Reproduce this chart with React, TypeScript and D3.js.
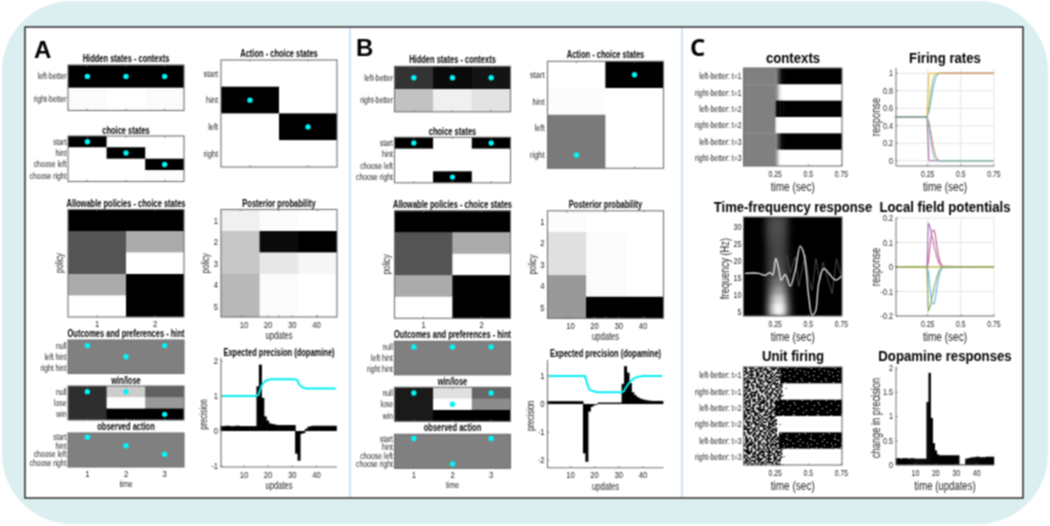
import React from 'react';
import * as d3 from 'd3';

const FONT = '"Liberation Sans", Arial, sans-serif';

// ---------- data: grey levels (0 black, 1 white), rows top to bottom ----------
const contextLabels = ['left-better', 'right-better'];
const choiceLabels = ['start', 'hint', 'choose left', 'choose right'];
const actionLabels = ['start', 'hint', 'left', 'right'];
const hintLabels = ['null', 'left hint', 'right hint'];
const winLabels = ['null', 'lose', 'win'];
const policyLabels = ['1', '2', '3', '4', '5'];
const timeLabels = ['1', '2', '3'];
const policyCols = ['1', '2'];

const hiddenA = [[0, 0, 0], [0.985, 1, 0.985]];
const hiddenB = [[0.2, 0.04, 0.08], [0.76, 0.94, 0.89]];
const choiceA = [[0, 1, 1], [1, 0, 1], [1, 1, 0], [1, 1, 0.99]];
const choiceB = [[0, 1, 0], [1, 1, 1], [1, 1, 1], [1, 0, 1]];
const actionA = [[1, 1], [0, 1], [1, 0], [1, 1]];
const actionB = [[1, 0], [0.99, 1], [0.48, 1], [0.48, 1]];
const policies = [[0, 0], [0.33, 0.67], [0.33, 1], [0.67, 0], [1, 0]];
const posteriorA = [[0.94, 0.99, 1], [0.78, 0.04, 0], [0.78, 0.91, 0.97], [0.72, 0.99, 1], [0.72, 0.99, 1]];
const posteriorB = [[0.99, 1, 1], [0.88, 0.985, 1], [0.88, 0.985, 1], [0.6, 0.985, 1], [0.6, 0, 0]];
const hintGrey = [[0.5, 0.5, 0.5], [0.5, 0.5, 0.5], [0.5, 0.5, 0.5]];
const winA = [[0.18, 0.8, 0.38], [0.18, 1, 0.6], [0.18, 0, 0]];
const winB = [[0.1, 0.88, 0.4], [0.1, 1, 0.55], [0.1, 0, 0]];
const observedGrey = [[0.5, 0.5, 0.5], [0.5, 0.5, 0.5], [0.5, 0.5, 0.5], [0.5, 0.5, 0.5]];

// marker positions: row index per column
const hiddenDots = [0, 0, 0];
const choiceDotsA = [0, 1, 2];
const choiceDotsB = [0, 3, 0];
const actionDotsA = [1, 2];
const actionDotsB = [3, 0];
const hintDotsA = [0, 1, 0];
const hintDotsB = [0, 0, 0];
const winDotsA = [0, 0, 2];
const winDotsB = [0, 1, 0];

const updateTicks = [10, 20, 30, 40];
const precisionA = [0.14, 0.14, 0.15, 0.15, 0.14, 0.14, 0.15, 0.15, 0.14, 0.14, 0.14, 0.14, 0.14, 0.14, 0.14, 1.28, 1.9, 0.95, 0.42, 0.3, 0.22, 0.2, 0.19, 0.17, 0.17, 0.17, 0.17, 0.17, 0.17, 0.17, 0.17, -0.65, -0.85, -0.08, -0.06, 0.06, 0.12, 0.14, 0.15, 0.15, 0.15, 0.15, 0.15, 0.15, 0.15, 0.15, 0.15, 0.15];
const gammaA = [1, 1, 1, 1, 1, 1, 1, 1, 1, 1, 1, 1, 1, 1, 1, 1.03, 1.25, 1.38, 1.44, 1.47, 1.48, 1.48, 1.48, 1.48, 1.48, 1.48, 1.48, 1.48, 1.48, 1.48, 1.48, 1.46, 1.32, 1.26, 1.23, 1.22, 1.22, 1.22, 1.22, 1.22, 1.22, 1.22, 1.22, 1.22, 1.22, 1.22, 1.22, 1.22];
const precisionB = [0.1, 0.1, 0.1, 0.1, 0.1, 0.1, 0.1, 0.1, 0.1, 0.1, 0.1, 0.1, 0.1, 0.1, 0.1, -1.76, -2.06, -0.27, -0.1, -0.05, -0.02, 0.05, 0.05, 0.05, 0.05, 0.05, 0.05, 0.05, 0.05, 0.05, 0.05, 0.72, 1.35, 1.12, 0.75, 0.42, 0.32, 0.25, 0.2, 0.17, 0.15, 0.13, 0.12, 0.11, 0.11, 0.11, 0.11, 0.11];
const gammaB = [1, 1, 1, 1, 1, 1, 1, 1, 1, 1, 1, 1, 1, 1, 1, 1, 0.7, 0.5, 0.47, 0.45, 0.42, 0.42, 0.42, 0.42, 0.42, 0.42, 0.42, 0.42, 0.42, 0.42, 0.42, 0.45, 0.6, 0.72, 0.82, 0.9, 0.94, 0.97, 0.98, 1, 1, 1, 1, 1, 1, 1, 1, 1];
const dopamine = [0.14, 0.14, 0.13, 0.14, 0.14, 0.14, 0.13, 0.14, 0.14, 0.13, 0.13, 0.13, 0.13, 0.13, 0.13, 1.3, 1.9, 0.97, 0.45, 0.3, 0.22, 0.2, 0.2, 0.2, 0.2, 0.2, 0.2, 0.2, 0.2, 0.2, 0.2, 0.01, 0.01, 0.01, 0.13, 0.14, 0.15, 0.16, 0.16, 0.17, 0.17, 0.16, 0.16, 0.16, 0.17, 0.17, 0.17, 0.17];

const contextRowLabels = ['left-better: t=1', 'right-better: t=1', 'left-better: t=2', 'right-better: t=2', 'left-better: t=3', 'right-better: t=3'];
const timeTicks = [0.25, 0.5, 0.75];
const contextEdges = [0.007, 0.25, 0.26, 0.27, 0.28, 0.29, 0.3, 0.31, 0.75];
const contextGrey = [
  [0.5, 0.5, 0.42, 0.3, 0.18, 0.08, 0, 0],
  [0.5, 0.5, 0.62, 0.76, 0.88, 0.95, 1, 1],
  [0.5, 0.25, 0, 0, 0, 0, 0, 0],
  [0.5, 0.8, 1, 1, 1, 1, 1, 1],
  [0.5, 0.5, 0.42, 0.3, 0.18, 0.08, 0, 0],
  [0.5, 0.55, 0.7, 0.85, 0.95, 1, 1, 1],
];

const rateTimes = [0.007, 0.245, 0.26, 0.27, 0.28, 0.29, 0.3, 0.31, 0.32, 0.33, 0.34, 0.35, 0.36, 0.75];
const rateBlue = [0.5, 0.5, 0.56, 0.65, 0.74, 0.83, 0.9, 0.95, 0.98, 0.99, 1, 1, 1, 1];
const rateGreen = [0.5, 0.5, 0.62, 0.75, 0.86, 0.93, 0.97, 0.99, 1, 1, 1, 1, 1, 1];
const rateYellow = [0.5, 0.5, 1, 1, 1, 1, 1, 1, 1, 1, 1, 1, 1, 1];
const rateRed = [0.5, 0.5, 0.44, 0.35, 0.26, 0.17, 0.1, 0.05, 0.02, 0.01, 0, 0, 0, 0];
const ratePurple = [0.5, 0.5, 0, 0, 0, 0, 0, 0, 0, 0, 0, 0, 0, 0];
const rateCyan = [0.5, 0.5, 0.38, 0.25, 0.14, 0.07, 0.03, 0.01, 0, 0, 0, 0, 0, 0];
const rateTopFlat = [NaN, NaN, NaN, NaN, NaN, NaN, NaN, NaN, NaN, NaN, NaN, 1, 1, 1];
const rateBottomFlat = [NaN, NaN, NaN, NaN, NaN, NaN, NaN, NaN, NaN, NaN, NaN, 0, 0, 0];
const rateTicks = [0, 0.2, 0.4, 0.6, 0.8, 1];

const lfpTimes = [0.007, 0.245, 0.255, 0.27, 0.28, 0.29, 0.3, 0.31, 0.32, 0.33, 0.34, 0.36, 0.75];
const lfpPurple = [0, 0, 0.18, 0.16, 0.13, 0.11, 0.08, 0.06, 0.04, 0.025, 0.01, 0, 0];
const lfpRed = [0, 0, 0.02, 0.1, 0.14, 0.15, 0.15, 0.12, 0.08, 0.05, 0.025, 0.003, 0];
const lfpGreen = [0, 0, -0.18, -0.16, -0.13, -0.11, -0.08, -0.06, -0.04, -0.025, -0.01, 0, 0];
const lfpBlue = [0, 0, -0.02, -0.1, -0.14, -0.15, -0.15, -0.12, -0.08, -0.05, -0.025, -0.003, 0];
const lfpFlat = [0, 0, 0, 0, 0, 0, 0, 0, 0, 0, 0, 0, 0];
const lfpTicks = [-0.2, -0.1, 0, 0.1, 0.2];

const freqTicks = [5, 10, 15, 20, 25, 30];
const tfTimeEdges = [0.15, 0.175, 0.2, 0.225, 0.25, 0.275, 0.3, 0.325, 0.35, 0.375, 0.4];
const tfFreqEdges = [33, 30, 27.5, 25, 22.5, 20, 17.5, 15, 12.5, 10, 7.5, 5, 3.6];
const tfPower = [
  [0.05, 0.2, 0.27, 0.3, 0.32, 0.3, 0.27, 0.2, 0.06, 0],
  [0.05, 0.2, 0.27, 0.3, 0.32, 0.3, 0.27, 0.2, 0.06, 0],
  [0.04, 0.18, 0.25, 0.28, 0.3, 0.29, 0.25, 0.18, 0.05, 0],
  [0.03, 0.16, 0.23, 0.27, 0.29, 0.28, 0.24, 0.17, 0.05, 0],
  [0.03, 0.15, 0.22, 0.26, 0.3, 0.28, 0.24, 0.17, 0.05, 0],
  [0.03, 0.15, 0.23, 0.28, 0.32, 0.31, 0.27, 0.18, 0.06, 0],
  [0.03, 0.15, 0.25, 0.3, 0.35, 0.35, 0.3, 0.2, 0.07, 0.01],
  [0.02, 0.17, 0.3, 0.4, 0.48, 0.48, 0.4, 0.28, 0.1, 0.02],
  [0.02, 0.2, 0.38, 0.52, 0.62, 0.62, 0.52, 0.35, 0.14, 0.03],
  [0.02, 0.25, 0.5, 0.72, 0.85, 0.85, 0.72, 0.45, 0.2, 0.04],
  [0.03, 0.3, 0.6, 0.88, 1, 1, 0.88, 0.55, 0.25, 0.05],
  [0.03, 0.3, 0.6, 0.88, 1, 1, 0.88, 0.55, 0.25, 0.05],
];
const traceTimes = [0.023, 0.124, 0.174, 0.212, 0.232, 0.255, 0.278, 0.296, 0.326, 0.364, 0.402, 0.439, 0.465, 0.503, 0.528, 0.553, 0.578, 0.616, 0.654, 0.705, 0.75];
const traceFreq = [16.3, 16.3, 15.7, 16.5, 15.8, 20.7, 17.3, 14.3, 16, 12.5, 17.3, 24.3, 22.2, 9.4, 4, 5, 13.3, 17.7, 16.3, 14.3, 15.5];
const faintTimes = [0.336, 0.364, 0.402, 0.427, 0.477, 0.503, 0.528, 0.558, 0.586, 0.611, 0.641, 0.679, 0.712, 0.75];
const faintFreq = [21.7, 16.3, 21.2, 12.4, 21.7, 14.3, 11.3, 20.6, 14.3, 19.6, 15.3, 10.3, 20.6, 15.3];

// hand-drawn spike texture: '#' spike, '+' spike that also shows in settled bands
const spikeTile = [
  '##.##+..###.#..#+##.#..#',
  '.#..#.##.#.###..##.+#.##',
  '##.+##.#.##..###...#.##.',
  '.##.#..#+..#.##.#.###.#.',
  '#..###.##.#.+..#.#...#+#',
  '..#.#..#.##.##.#+.###.##',
  '##.##+#.#...#.##.#..#.#.',
  '#.#...#.###.#+..#.##.#.#',
  '.###.##..#.#.###.#...+##',
  '#.+.#..#.##...#.#+##.#.#',
  '..#.##.##..#.#.#..#.###.',
  '###..#.##+#.##.#..##.#.#',
  '.#.#.#...#..#.#.##..#.+#',
  '#.##...#.#+#.#..#.##.#.#',
  '.#..#+##..#.##.##..#.##.',
  '##.##.#.#...#.##.+#.#.#.',
  '#.#.###.#.#..#.#..#.##.#',
  '.##.#...##.#.+#..#.##.##',
  '#..+.##.##.#.#.##...#.#.',
  '.###.##.#.###..##.#.#+.#',
  '##.#...#.+##.#.#.#.##.##',
  '.#.#.##.##..##.#..+.#.#.',
  '#.##.#...#.#.#.##.#.##.#',
  '.#..##.#+#.#..##.#.#.#.#',
];
const noiseGrid = 56;
const speckGrid = 98;
const bandEdges = [0.29, 0.3, 0.25, 0.25, 0.28, 0.29];

// ---------- helpers ----------
const grey = d3.scaleLinear<string>().domain([0, 1]).range(['#000000', '#ffffff']);
const lineColor = '#707070';
const textColor = '#222222';

type TP = { x: number; y: number; s?: number; sx?: number; a?: string; b?: boolean; rot?: number; fill?: string; children: any };
const T = ({ x, y, s = 8.5, sx = 0.8, a = 'middle', b = false, rot = 0, fill = textColor, children }: TP) => (
  <text transform={`translate(${x},${y}) rotate(${rot}) scale(${sx},1)`} fontFamily={FONT} fontSize={s}
    fontWeight={b ? 700 : 400} textAnchor={a} fill={fill}>{children}</text>
);
const Title = ({ x, y, children }: any) => <T x={x} y={y} s={10} sx={0.75} b fill="#000">{children}</T>;

type HP = {
  x: number; y: number; w: number; h: number; grid: number[][]; dots?: number[]; rows?: string[];
  cols?: string[]; labelSize?: number;
};
const Heat = ({ x, y, w, h, grid, dots, rows, cols, labelSize = 8.5 }: HP) => {
  const yb = d3.scaleBand<number>().domain(d3.range(grid.length)).range([y, y + h]);
  const xb = d3.scaleBand<number>().domain(d3.range(grid[0].length)).range([x, x + w]);
  return (
    <g>
      {grid.map((r, i) => r.map((v, j) => (
        <rect key={`${i}-${j}`} x={xb(j)} y={yb(i)}
          width={xb.bandwidth() + (j < r.length - 1 ? 1 : 0)} height={yb.bandwidth() + (i < grid.length - 1 ? 1 : 0)} fill={grey(v)} />
      )))}
      {/* later cells must win over the overlap of the cells before them */}
      {grid.map((r, i) => r.map((v, j) => (
        <rect key={`o${i}-${j}`} x={xb(j)} y={yb(i)} width={xb.bandwidth()} height={yb.bandwidth()} fill={grey(v)} />
      )))}
      <rect x={x} y={y} width={w} height={h} fill="none" stroke={lineColor} strokeWidth={1.1} />
      {xb.domain().map((j) => (
        <g key={j}>
          <line x1={xb(j)! + xb.bandwidth() / 2} x2={xb(j)! + xb.bandwidth() / 2} y1={y + h} y2={y + h - 1.5} stroke={lineColor} />
          <line x1={xb(j)! + xb.bandwidth() / 2} x2={xb(j)! + xb.bandwidth() / 2} y1={y} y2={y + 1.5} stroke={lineColor} />
        </g>
      ))}
      {rows && rows.map((r, i) => (
        <T key={r} x={x - 1.5} y={yb(i)! + yb.bandwidth() / 2 + labelSize * 0.36} s={labelSize} a="end">{r}</T>
      ))}
      {cols && cols.map((c, j) => (
        <T key={c} x={xb(j)! + xb.bandwidth() / 2} y={y + h + 9.5} s={9} sx={0.85}>{c}</T>
      ))}
      {dots && dots.map((r, j) => (
        <circle key={j} cx={xb(j)! + xb.bandwidth() / 2} cy={yb(r)! + yb.bandwidth() / 2} r={2.7} fill="#00f6f8" />
      ))}
    </g>
  );
};

const updates = d3.range(1, 49);

const Posterior = ({ x, y, w, h, grid }: any) => {
  const sx = d3.scaleLinear().domain([0.5, 48.5]).range([x, x + w]);
  return (
    <g>
      <Heat x={x} y={y} w={w} h={h} grid={grid} />
      {policyLabels.map((p, i) => (
        <T key={p} x={x - 3} y={y + (h / 5) * (i + 0.5) + 3.3} s={9} sx={0.85} a="end">{p}</T>
      ))}
      {updateTicks.map((t) => (
        <g key={t}>
          <line x1={sx(t)} x2={sx(t)} y1={y + h} y2={y + h - 1.5} stroke={lineColor} />
          <T x={sx(t)} y={y + h + 10.5} s={9} sx={0.85}>{t}</T>
        </g>
      ))}
      <T x={x + w / 2} y={y + h + 22} s={10} sx={0.76}>updates</T>
      <T x={x - 12} y={y + h / 2} s={10} sx={0.78} rot={-90}>policy</T>
    </g>
  );
};

const Precision = ({ x, y, w, h, bars, gamma, yDomain, yTicks }: any) => {
  const sx = d3.scaleLinear().domain([0.5, 48.5]).range([x, x + w]);
  const sy = d3.scaleLinear().domain(yDomain).range([y + h, y]);
  const line = d3.line<number>().x((_, i) => sx(updates[i])).y((d) => sy(d));
  return (
    <g>
      {bars.map((v: number, i: number) => (
        <rect key={i} x={sx(updates[i] - 0.7) - 0.3} width={sx(1.5) - sx(0.5) + 0.6} y={Math.min(sy(v), sy(0))}
          height={Math.abs(sy(v) - sy(0))} fill="#000" />
      ))}
      <path d={line(gamma) ?? ''} fill="none" stroke="#05eef2" strokeWidth={2} />
      <path d={`M${x},${y}V${y + h}H${x + w}`} fill="none" stroke={lineColor} strokeWidth={1.1} />
      {yTicks.map((t: number) => (
        <g key={t}>
          <line x1={x} x2={x + 1.5} y1={sy(t)} y2={sy(t)} stroke={lineColor} />
          <T x={x - 3} y={sy(t) + 3.3} s={9} sx={0.85} a="end">{t}</T>
        </g>
      ))}
      {updateTicks.map((t) => (
        <g key={t}>
          <line x1={sx(t)} x2={sx(t)} y1={y + h} y2={y + h - 1.5} stroke={lineColor} />
          <T x={sx(t)} y={y + h + 10.5} s={9} sx={0.85}>{t}</T>
        </g>
      ))}
      <T x={x + w / 2} y={y + h + 22} s={10} sx={0.76}>updates</T>
      <T x={x - 14} y={y + h / 2 + 2} s={10} sx={0.76} rot={-90}>precision</T>
    </g>
  );
};

const PanelAB = ({ dx, dy, a }: any) => (
  <g>
    <Title x={dx + 58} y={dy + 62}>Hidden states - contexts</Title>
    <Heat x={dx} y={dy + 65} w={116} h={45.5} grid={a.hidden} dots={hiddenDots} rows={contextLabels} />
    <Title x={dx + 58} y={dy + 134}>choice states</Title>
    <Heat x={dx} y={dy + 136} w={116} h={45.5} grid={a.choice} dots={a.choiceDots} rows={choiceLabels} />
    <Title x={dx + 58} y={dy + 207}>Allowable policies - choice states</Title>
    <Heat x={dx} y={dy + 209.5} w={116} h={107.5} grid={policies} cols={policyCols} />
    <T x={dx - 5} y={dy + 263} s={10} sx={0.78} rot={-90}>policy</T>
    <Title x={dx + 58} y={dy + 337}>Outcomes and preferences - hint</Title>
    <Heat x={dx} y={dy + 340} w={116} h={33.5} grid={hintGrey} dots={a.hintDots} rows={hintLabels} />
    <Title x={dx + 58} y={dy + 383.5}>win/lose</Title>
    <Heat x={dx} y={dy + 386} w={116} h={34} grid={a.win} dots={a.winDots} rows={winLabels} />
    <Title x={dx + 58} y={dy + 430}>observed action</Title>
    <Heat x={dx} y={dy + 433} w={116} h={34} grid={observedGrey} dots={a.choiceDots} rows={choiceLabels} cols={timeLabels} />
    <T x={dx + 58} y={dy + 486.5} s={9} sx={0.78}>time</T>

    <Title x={dx + 211} y={dy + 57}>Action - choice states</Title>
    <Heat x={dx + 153} y={dy + 60} w={116} h={107} grid={a.action} dots={a.actionDots} />
    {actionLabels.map((l, i) => (
      <T key={l} x={dx + 150} y={dy + 60 + (107 / 4) * (i + 0.5) + 3.3} s={9.5} sx={0.78} a="end">{l}</T>
    ))}
    <Title x={dx + 211} y={dy + 207}>Posterior probability</Title>
    <Posterior x={dx + 153} y={dy + 209.5} w={116} h={107.5} grid={a.posterior} />
    <Title x={dx + 211} y={dy + 356}>Expected precision (dopamine)</Title>
    <Precision x={dx + 153} y={dy + a.py} w={116} h={a.ph} bars={a.bars} gamma={a.gamma} yDomain={a.yDomain} yTicks={a.yTicks} />
  </g>
);

const CBox = ({ x, y, w, h }: any) => <rect x={x} y={y} width={w} height={h} fill="none" stroke={lineColor} strokeWidth={1.1} />;

const timeScale = (x: number) => d3.scaleLinear().domain([0, 0.75]).range([x - 1.5, x + 98]);

const TimeAxis = ({ x, y, w, h, sx, label = 'time (sec)' }: any) => (
  <g>
    {timeTicks.map((t) => (
      <g key={t}>
        <line x1={sx(t)} x2={sx(t)} y1={y + h} y2={y + h - 1.5} stroke={lineColor} />
        <T x={sx(t)} y={y + h + 10.5} s={9} sx={0.76}>{t}</T>
      </g>
    ))}
    <T x={x + w / 2} y={y + h + 25} s={12} sx={0.84}>{label}</T>
  </g>
);

const LinePlot = ({ x, y, w, h, times, series, yDomain, yTicks }: any) => {
  const sx = timeScale(x);
  const sy = d3.scaleLinear().domain(yDomain).range([y + h, y]);
  const line = d3.line<number>().defined((d) => Number.isFinite(d)).x((_, i) => sx(times[i])).y((d) => sy(d));
  return (
    <g>
      {timeTicks.map((t) => <line key={t} x1={sx(t)} x2={sx(t)} y1={y} y2={y + h} stroke="#e4e4e4" />)}
      {yTicks.map((t: number) => <line key={t} x1={x} x2={x + w} y1={sy(t)} y2={sy(t)} stroke="#e4e4e4" />)}
      {series.map((s: any, i: number) => (
        <path key={i} d={line(s.v) ?? ''} fill="none" stroke={s.c} strokeWidth={1} />
      ))}
      <path d={`M${x},${y}V${y + h}H${x + w}`} fill="none" stroke={lineColor} />
      {yTicks.map((t: number) => (
        <g key={t}>
          <line x1={x} x2={x + 1.5} y1={sy(t)} y2={sy(t)} stroke={lineColor} />
          <T x={x - 3} y={sy(t) + 3} s={9} sx={0.8} a="end">{t}</T>
        </g>
      ))}
      <TimeAxis x={x} y={y} w={w} h={h} sx={sx} />
      <T x={x - 16} y={y + h / 2} s={12} sx={0.78} rot={-90}>response</T>
    </g>
  );
};

const Contexts = ({ x, y, w, h }: any) => {
  const sx = timeScale(x);
  const yb = d3.scaleBand<number>().domain(d3.range(6)).range([y, y + h]);
  return (
    <g>
      <g clipPath="url(#clipContexts)">
        {contextGrey.map((r, i) => r.map((v, j) => (
          <rect key={`${i}-${j}`} x={sx(contextEdges[j])} y={yb(i)} width={sx(contextEdges[j + 1]) - sx(contextEdges[j]) + 0.4}
            height={yb.bandwidth() + 0.3} fill={grey(v)} />
        )))}
      </g>
      <CBox x={x} y={y} w={w} h={h} />
      {contextRowLabels.map((l, i) => (
        <T key={i} x={x - 2} y={yb(i)! + yb.bandwidth() / 2 + 3} s={9} sx={0.76} a="end">{l}</T>
      ))}
      <TimeAxis x={x} y={y} w={w} h={h} sx={sx} />
    </g>
  );
};

const Spectrum = ({ x, y, w, h }: any) => {
  const sx = timeScale(x);
  const sy = d3.scaleLinear().domain([3.7, 32.9]).range([y + h, y]);
  const heat = d3.scaleLinear<string>().domain([0, 1]).range(['#000000', '#ffffff']);
  const trace = d3.line<number>().x((_, i) => sx(traceTimes[i])).y((d) => sy(d)).curve(d3.curveCatmullRom);
  const faint = d3.line<number>().x((_, i) => sx(faintTimes[i])).y((d) => sy(d));
  return (
    <g>
      <rect x={x} y={y} width={w} height={h} fill="#000" />
      <g clipPath="url(#clipSpec)">
        <g filter="url(#soft)">
          {tfPower.map((r, i) => r.map((v, j) => (
            <rect key={`${i}-${j}`} x={sx(tfTimeEdges[j])} y={sy(tfFreqEdges[i])} width={sx(tfTimeEdges[j + 1]) - sx(tfTimeEdges[j]) + 0.3}
              height={sy(tfFreqEdges[i + 1]) - sy(tfFreqEdges[i]) + 0.3} fill={heat(v)} />
          )))}
        </g>
        <path d={faint(faintFreq) ?? ''} fill="none" stroke="#5c5c5c" strokeWidth={0.8} />
        <path d={trace(traceFreq) ?? ''} fill="none" stroke="#eeeeee" strokeWidth={1.3} />
      </g>
      <CBox x={x} y={y} w={w} h={h} />
      {freqTicks.map((t) => (
        <T key={t} x={x - 2} y={sy(t) + 3} s={9} sx={0.8} a="end">{t}</T>
      ))}
      <T x={x - 14.5} y={y + h / 2 + 2} s={12} sx={0.78} rot={-90}>frequency (Hz)</T>
      <TimeAxis x={x} y={y} w={w} h={h} sx={sx} />
    </g>
  );
};

const Raster = ({ x, y, w, h }: any) => {
  const sx = timeScale(x);
  const yb = d3.scaleBand<number>().domain(d3.range(6)).range([y, y + h]);
  const nCol = d3.scaleBand<number>().domain(d3.range(noiseGrid)).range([x, x + w]);
  const nRow = d3.scaleBand<number>().domain(d3.range(noiseGrid)).range([y, y + h]);
  const fCol = d3.scaleBand<number>().domain(d3.range(speckGrid)).range([x, x + w]);
  const fRow = d3.scaleBand<number>().domain(d3.range(speckGrid)).range([y, y + h]);
  const size = spikeTile.length;
  const charAt = (r: number, c: number) => spikeTile[r % size][(c + 7 * Math.floor(r / size)) % size];
  const bandOf = (py: number) => Math.min(5, Math.floor(((py - y) / h) * 6));
  const noise: { c: number; r: number }[] = [];
  const black: { c: number; r: number }[] = [];
  const white: { c: number; r: number }[] = [];
  for (const r of nRow.domain()) {
    const band = bandOf(nRow(r)!);
    for (const c of nCol.domain()) {
      if (sx.invert(nCol(c)!) < bandEdges[band] && charAt(r, c) !== '.') noise.push({ c, r });
    }
  }
  for (const r of fRow.domain()) {
    const band = bandOf(fRow(r)!);
    for (const c of fCol.domain()) {
      const t = sx.invert(fCol(c)!);
      const ch = charAt(r, c);
      if (t < bandEdges[band]) continue;
      if (band % 2 === 0) {
        if (ch === '+') white.push({ c, r });
      } else if (t < bandEdges[band] + 0.035 && ch === '+') {
        black.push({ c, r });
      }
    }
  }
  return (
    <g>
      <rect x={x} y={y} width={w} height={h} fill="#fff" />
      {[0, 2, 4].map((b) => (
        <rect key={b} x={sx(bandEdges[b])} y={yb(b)} width={x + w - sx(bandEdges[b])} height={yb.bandwidth()} fill="#000" />
      ))}
      {noise.map((s, i) => (
        <rect key={i} x={nCol(s.c)} y={nRow(s.r)} width={nCol.bandwidth() + 0.2} height={nRow.bandwidth() + 0.2} fill="#000" />
      ))}
      {black.map((s, i) => (
        <rect key={i} x={fCol(s.c)} y={fRow(s.r)} width={fCol.bandwidth()} height={fRow.bandwidth()} fill="#000" />
      ))}
      {white.map((s, i) => (
        <rect key={i} x={fCol(s.c)} y={fRow(s.r)} width={fCol.bandwidth()} height={fRow.bandwidth()} fill="#fff" />
      ))}
      <CBox x={x} y={y} w={w} h={h} />
      {contextRowLabels.map((l, i) => (
        <T key={i} x={x - 2} y={yb(i)! + yb.bandwidth() / 2 + 3} s={9} sx={0.76} a="end">{l}</T>
      ))}
      <TimeAxis x={x} y={y} w={w} h={h} sx={sx} />
    </g>
  );
};

const Dopamine = ({ x, y, w, h }: any) => {
  const sx = d3.scaleLinear().domain([0.5, 48.5]).range([x, x + w]);
  const sy = d3.scaleLinear().domain([0, 2.02]).range([y + h, y]);
  return (
    <g>
      {dopamine.map((v, i) => (
        <rect key={i} x={sx(updates[i] - 0.5) - 0.2} width={sx(1.5) - sx(0.5) + 0.4} y={sy(v)} height={sy(0) - sy(v)} fill="#000" />
      ))}
      <path d={`M${x},${y}V${y + h}H${x + w}`} fill="none" stroke={lineColor} />
      {[0, 0.5, 1, 1.5, 2].map((t) => (
        <g key={t}>
          <line x1={x} x2={x + 1.5} y1={sy(t)} y2={sy(t)} stroke={lineColor} />
          <T x={x - 3} y={sy(t) + 3} s={9} sx={0.8} a="end">{t}</T>
        </g>
      ))}
      {updateTicks.map((t) => (
        <g key={t}>
          <line x1={sx(t)} x2={sx(t)} y1={y + h} y2={y + h - 1.5} stroke={lineColor} />
          <T x={sx(t)} y={y + h + 10.5} s={9} sx={0.78}>{t}</T>
        </g>
      ))}
      <T x={x + w / 2} y={y + h + 25} s={12} sx={0.8}>time (updates)</T>
      <T x={x - 16} y={y + h / 2 + 2} s={12} sx={0.78} rot={-90}>change in precision</T>
    </g>
  );
};

const BigTitle = ({ x, y, children, sx = 0.88 }: any) => <T x={x} y={y} s={15} sx={sx} b fill="#000">{children}</T>;

const rateSeries = [
  { c: '#5b9bd5', v: rateBlue }, { c: '#8cc26a', v: rateGreen }, { c: '#edb120', v: rateYellow },
  { c: '#d0887a', v: rateTopFlat }, { c: '#a5548f', v: ratePurple }, { c: '#c7604f', v: rateRed },
  { c: '#5fd0d8', v: rateCyan }, { c: '#80c0a8', v: rateBottomFlat },
];
const lfpSeries = [
  { c: '#4aa3df', v: lfpBlue }, { c: '#c2406a', v: lfpRed }, { c: '#9a58b0', v: lfpPurple },
  { c: '#f09030', v: lfpFlat }, { c: '#6f9d3a', v: lfpGreen }, { c: '#a0d070', v: lfpFlat },
];

export default function App() {
  return (
    <svg width={1050} height={526} viewBox="0 0 1050 526" style={{ position: 'fixed', left: 0, top: 0, display: 'block' }}>
      <defs>
        <filter id="blur" x="0" y="0" width="1050" height="526" filterUnits="userSpaceOnUse" colorInterpolationFilters="sRGB">
          <feConvolveMatrix order="3" kernelMatrix="1 2 1 2 4 2 1 2 1" divisor="16" edgeMode="duplicate" preserveAlpha="true" />
        </filter>
        <filter id="soft" x="-30%" y="-30%" width="160%" height="160%" colorInterpolationFilters="sRGB"><feGaussianBlur stdDeviation="2.2" /></filter>
        <clipPath id="clipContexts"><rect x={743.5} y={68} width={98.5} height={98} /></clipPath>
        <clipPath id="clipSpec"><rect x={743.5} y={217} width={98.5} height={99} /></clipPath>
      </defs>
      <rect width={1050} height={526} fill="#fff" />
      <g filter="url(#blur)">
        <rect width={1050} height={526} fill="#fff" />
        <rect x={2} y={1} width={1046} height={523} rx={70} fill="#dbeff0" />
        <rect x={25} y={27} width={998} height={471} fill="#fff" stroke="#2a2a2a" strokeWidth={1.5} />
        <line x1={350} x2={350} y1={28} y2={497} stroke="#a9cfee" strokeWidth={1.2} />
        <line x1={682} x2={682} y1={28} y2={497} stroke="#a9cfee" strokeWidth={1.2} />

        <T x={34} y={58} s={24} sx={1} a="start" b fill="#000">A</T>
        <T x={356} y={56} s={24} sx={1} a="start" b fill="#000">B</T>
        <text x={690} y={56} fontFamily='"Open Sans", sans-serif' fontSize={24} fontWeight={700} fill="#000">C</text>

        <PanelAB dx={68} dy={0} a={{
          hidden: hiddenA, choice: choiceA, choiceDots: choiceDotsA, hintDots: hintDotsA, win: winA, winDots: winDotsA,
          action: actionA, actionDots: actionDotsA, posterior: posteriorA, py: 358, ph: 109, bars: precisionA, gamma: gammaA,
          yDomain: [-1.03, 2.09], yTicks: [-1, 0, 1, 2],
        }} />
        <PanelAB dx={394.5} dy={1.3} a={{
          hidden: hiddenB, choice: choiceB, choiceDots: choiceDotsB, hintDots: hintDotsB, win: winB, winDots: winDotsB,
          action: actionB, actionDots: actionDotsB, posterior: posteriorB, py: 358.7, ph: 107.7, bars: precisionB, gamma: gammaB,
          yDomain: [-2.27, 1.57], yTicks: [-2, -1, 0, 1],
        }} />

        <BigTitle x={793} y={63}>contexts</BigTitle>
        <Contexts x={743.5} y={68} w={98.5} h={98} />
        <BigTitle x={945} y={63}>Firing rates</BigTitle>
        <LinePlot x={896} y={68} w={98} h={98} times={rateTimes} series={rateSeries} yDomain={[-0.06, 1.06]} yTicks={rateTicks} />
        <BigTitle x={793} y={212} sx={0.87}>Time-frequency response</BigTitle>
        <Spectrum x={743.5} y={217} w={98.5} h={99} />
        <BigTitle x={945} y={212}>Local field potentials</BigTitle>
        <LinePlot x={896} y={218} w={98} h={98} times={lfpTimes} series={lfpSeries} yDomain={[-0.2, 0.2]} yTicks={lfpTicks} />
        <BigTitle x={793} y={361}>Unit firing</BigTitle>
        <Raster x={743.5} y={367} w={98.5} h={98} />
        <BigTitle x={945} y={361}>Dopamine responses</BigTitle>
        <Dopamine x={896} y={367} w={98} h={98} />
      </g>
    </svg>
  );
}
